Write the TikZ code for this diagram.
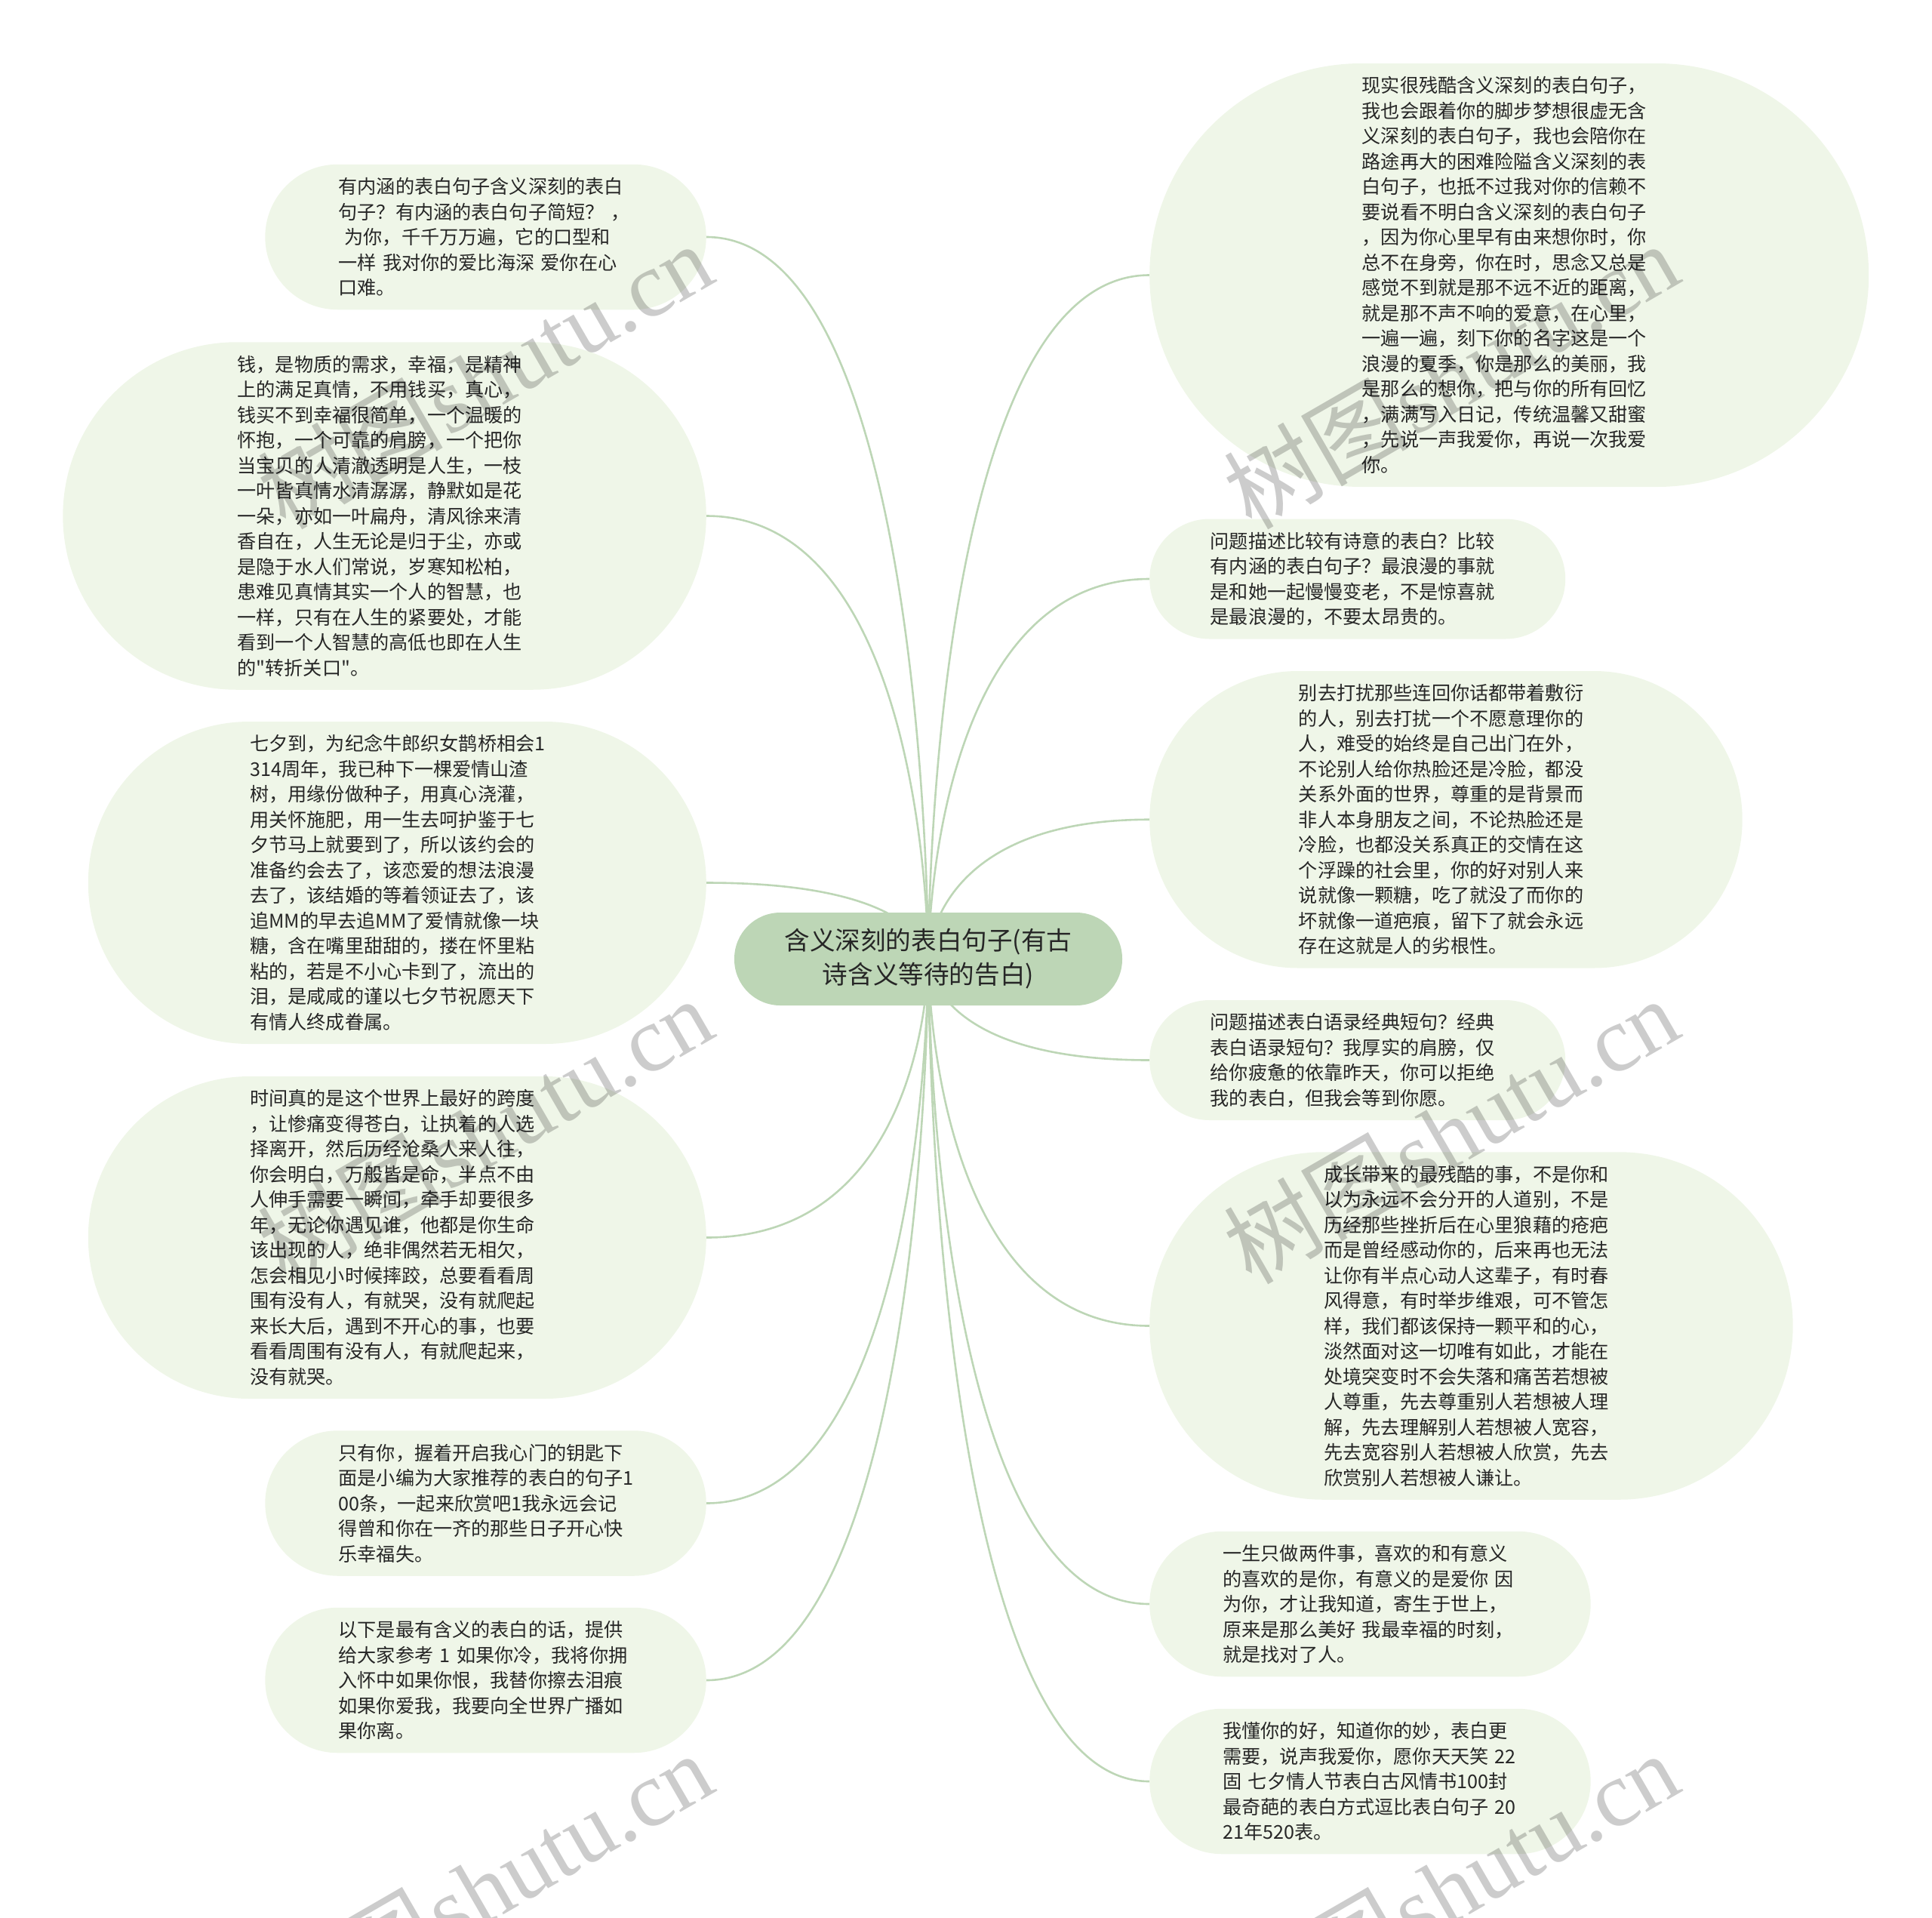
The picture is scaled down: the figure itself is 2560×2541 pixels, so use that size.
\documentclass[tikz,border=0pt]{standalone}
\usepackage{fontspec}
\setmainfont{Noto Sans CJK SC}[Ligatures=TeXOff]
\newfontfamily\markfont{Liberation Serif}
\usetikzlibrary{backgrounds}
\definecolor{rootgreen}{HTML}{BDD6B6}
\definecolor{leafgreen}{HTML}{EFF6E8}
\definecolor{textblack}{HTML}{262626}
\begin{document}
\begin{tikzpicture}[
    x=1pt,
    y=-1pt,
    every node/.style={draw=none, inner ysep=0pt, text=textblack},
    leaf/.style={fill=leafgreen, rounded corners=#1, inner xsep=#1+1pt, minimum height=2*#1,
        text width=390pt, align=left, font=\fontsize{25.15}{33.5}\selectfont},
    root/.style={fill=rootgreen, rounded corners=61pt, minimum width=514pt, minimum height=123pt,
        align=center, font=\fontsize{33.6}{45}\selectfont},
    branch/.style={draw=rootgreen, line width=2.6pt},
    watermark/.style={text=black, text opacity=.2, rotate=30, font=\fontsize{123}{123}\selectfont}
]
\useasboundingbox (0,0) rectangle (2560,2541);
\clip (0,0) rectangle (2560,2541);
\node[root] (root) at (1230,1270.5) {含义深刻的表白句子(有古\\诗含义等待的告白)};

\node[leaf=96.25pt, anchor=east] (left1) at (936,314) {有内涵的表白句子含义深刻的表白\\
句子？有内涵的表白句子简短？~，\\
\hspace*{8pt}为你，千千万万遍，它的口型和\\
一样~我对你的爱比海深~爱你在心\\
口难。};
\node[leaf=230.25pt, anchor=east] (left2) at (936,683.5) {钱，是物质的需求，幸福，是精神\\
上的满足真情，不用钱买，真心，\\
钱买不到幸福很简单，一个温暖的\\
怀抱，一个可靠的肩膀，一个把你\\
当宝贝的人清澈透明是人生，一枝\\
一叶皆真情水清潺潺，静默如是花\\
一朵，亦如一叶扁舟，清风徐来清\\
香自在，人生无论是归于尘，亦或\\
是隐于水人们常说，岁寒知松柏，\\
患难见真情其实一个人的智慧，也\\
一样，只有在人生的紧要处，才能\\
看到一个人智慧的高低也即在人生\\
的"转折关口"。};
\node[leaf=213.5pt, anchor=east] (left3) at (936,1169.5) {七夕到，为纪念牛郎织女鹊桥相会1\\
314周年，我已种下一棵爱情山渣\\
树，用缘份做种子，用真心浇灌，\\
用关怀施肥，用一生去呵护鉴于七\\
夕节马上就要到了，所以该约会的\\
准备约会去了，该恋爱的想法浪漫\\
去了，该结婚的等着领证去了，该\\
追MM的早去追MM了爱情就像一块\\
糖，含在嘴里甜甜的，搂在怀里粘\\
粘的，若是不小心卡到了，流出的\\
泪，是咸咸的谨以七夕节祝愿天下\\
有情人终成眷属。};
\node[leaf=213.5pt, anchor=east] (left4) at (936,1639.5) {时间真的是这个世界上最好的跨度\\
，让惨痛变得苍白，让执着的人选\\
择离开，然后历经沧桑人来人往，\\
你会明白，万般皆是命，半点不由\\
人伸手需要一瞬间，牵手却要很多\\
年，无论你遇见谁，他都是你生命\\
该出现的人，绝非偶然若无相欠，\\
怎会相见小时候摔跤，总要看看周\\
围有没有人，有就哭，没有就爬起\\
来长大后，遇到不开心的事，也要\\
看看周围有没有人，有就爬起来，\\
没有就哭。};
\node[leaf=96.25pt, anchor=east] (left5) at (936,1991.5) {只有你，握着开启我心门的钥匙下\\
面是小编为大家推荐的表白的句子1\\
00条，一起来欣赏吧1我永远会记\\
得曾和你在一齐的那些日子开心快\\
乐幸福失。};
\node[leaf=96.25pt, anchor=east] (left6) at (936,2226) {以下是最有含义的表白的话，提供\\
给大家参考~1~如果你冷，我将你拥\\
入怀中如果你恨，我替你擦去泪痕\\
如果你爱我，我要向全世界广播如\\
果你离。};

\node[leaf=280.5pt, anchor=west] (right1) at (1523,364.5) {现实很残酷含义深刻的表白句子，\\
我也会跟着你的脚步梦想很虚无含\\
义深刻的表白句子，我也会陪你在\\
路途再大的困难险隘含义深刻的表\\
白句子，也抵不过我对你的信赖不\\
要说看不明白含义深刻的表白句子\\
，因为你心里早有由来想你时，你\\
总不在身旁，你在时，思念又总是\\
感觉不到就是那不远不近的距离，\\
就是那不声不响的爱意，在心里，\\
一遍一遍，刻下你的名字这是一个\\
浪漫的夏季，你是那么的美丽，我\\
是那么的想你，把与你的所有回忆\\
，满满写入日记，传统温馨又甜蜜\\
，先说一声我爱你，再说一次我爱\\
你。};
\node[leaf=79.5pt, anchor=west] (right2) at (1523,767) {问题描述比较有诗意的表白？比较\\
有内涵的表白句子？最浪漫的事就\\
是和她一起慢慢变老，不是惊喜就\\
是最浪漫的，不要太昂贵的。};
\node[leaf=196.75pt, anchor=west] (right3) at (1523,1085.75) {别去打扰那些连回你话都带着敷衍\\
的人，别去打扰一个不愿意理你的\\
人，难受的始终是自己出门在外，\\
不论别人给你热脸还是冷脸，都没\\
关系外面的世界，尊重的是背景而\\
非人本身朋友之间，不论热脸还是\\
冷脸，也都没关系真正的交情在这\\
个浮躁的社会里，你的好对别人来\\
说就像一颗糖，吃了就没了而你的\\
坏就像一道疤痕，留下了就会永远\\
存在这就是人的劣根性。};
\node[leaf=79.5pt, anchor=west] (right4) at (1523,1404.5) {问题描述表白语录经典短句？经典\\
表白语录短句？我厚实的肩膀，仅\\
给你疲惫的依靠昨天，你可以拒绝\\
我的表白，但我会等到你愿。};
\node[leaf=230.25pt, anchor=west] (right5) at (1523,1756.5) {成长带来的最残酷的事，不是你和\\
以为永远不会分开的人道别，不是\\
历经那些挫折后在心里狼藉的疮疤\\
而是曾经感动你的，后来再也无法\\
让你有半点心动人这辈子，有时春\\
风得意，有时举步维艰，可不管怎\\
样，我们都该保持一颗平和的心，\\
淡然面对这一切唯有如此，才能在\\
处境突变时不会失落和痛苦若想被\\
人尊重，先去尊重别人若想被人理\\
解，先去理解别人若想被人宽容，\\
先去宽容别人若想被人欣赏，先去\\
欣赏别人若想被人谦让。};
\node[leaf=96.25pt, anchor=west] (right6) at (1523,2125) {一生只做两件事，喜欢的和有意义\\
的喜欢的是你，有意义的是爱你~因\\
为你，才让我知道，寄生于世上，\\
原来是那么美好~我最幸福的时刻，\\
就是找对了人。};
\node[leaf=96.25pt, anchor=west] (right7) at (1523,2360) {我懂你的好，知道你的妙，表白更\\
需要，说声我爱你，愿你天天笑~22\\
固~七夕情人节表白古风情书100封\\
最奇葩的表白方式逗比表白句子~20\\
21年520表。};

\begin{scope}[on background layer]
\foreach \leafname in {left1,left2,left3,left4,left5,left6}
    \draw[branch] (\leafname.east) .. controls (root.center |- \leafname.east) and (root.center) .. (root.center);
\foreach \leafname in {right1,right2,right3,right4,right5,right6,right7}
    \draw[branch] (\leafname.west) .. controls (root.center |- \leafname.west) and (root.center) .. (root.center);
\end{scope}

\foreach \col in {0,1}
    \foreach \row in {0,1,2}
        \node[watermark] (mark\col\row) at (642+1280*\col,497+1000*\row) {树图\hspace{4pt}{\markfont shutu.cn}};
\end{tikzpicture}
\end{document}
